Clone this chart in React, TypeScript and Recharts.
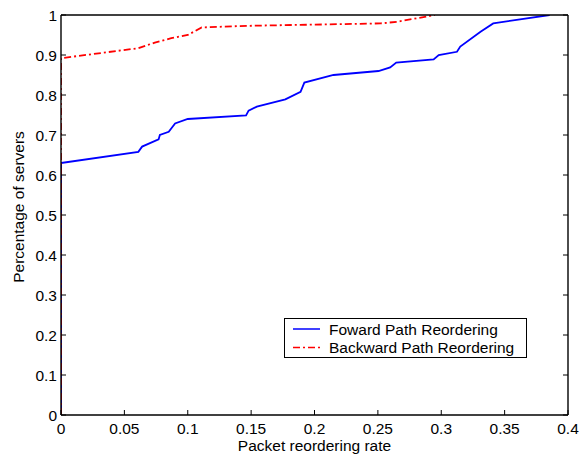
import React from "react";
import {
  LineChart, Line, XAxis, YAxis, Legend,
} from "recharts";

const FONT = '"Liberation Sans", Arial, Helvetica, sans-serif';
const FS = 15.5;

const X_TICKS = [0, 0.05, 0.1, 0.15, 0.2, 0.25, 0.3, 0.35, 0.4];
const Y_TICKS = [0, 0.1, 0.2, 0.3, 0.4, 0.5, 0.6, 0.7, 0.8, 0.9, 1];

// Foward path reordering CDF
const fwdRate = [
  0, 0, 0.061, 0.064, 0.077, 0.078, 0.085, 0.09, 0.1, 0.146, 0.148, 0.1545,
  0.177, 0.189, 0.192, 0.215, 0.2505, 0.2597, 0.2645, 0.294, 0.298, 0.3124,
  0.315, 0.331, 0.341, 0.3855,
];
const fwdPct = [
  0, 0.63, 0.658, 0.671, 0.689, 0.7, 0.708, 0.729, 0.74, 0.749, 0.761, 0.771,
  0.789, 0.808, 0.831, 0.85, 0.86, 0.869, 0.881, 0.889, 0.9, 0.908,
  0.921, 0.958, 0.979, 1,
];

// Backward path reordering CDF
const bwdRate = [0, 0, 0.061, 0.074, 0.087, 0.1, 0.111, 0.148, 0.2005, 0.252, 0.265, 0.295];
const bwdPct = [0, 0.892, 0.917, 0.931, 0.942, 0.95, 0.969, 0.973, 0.976, 0.979, 0.983, 1];

const fwd = fwdRate.map((x, i) => ({ x, y: fwdPct[i] }));
const bwd = bwdRate.map((x, i) => ({ x, y: bwdPct[i] }));

const txt = { fontFamily: FONT, fontSize: FS, fill: "#000" };
const AXIS = { stroke: "#000", strokeWidth: 1.4 };

const BottomTick = ({ x, y, payload }: any) => (
  <g>
    <line x1={x} x2={x} y1={y} y2={y - 5} stroke="#000" />
    <text x={x} y={y + 19} textAnchor="middle" {...txt}>{String(payload.value)}</text>
  </g>
);
const TopTick = ({ x, y }: any) => (
  <line x1={x} x2={x} y1={y} y2={y + 5} stroke="#000" />
);
const LeftTick = ({ x, y, payload }: any) => (
  <g>
    <line x1={x} x2={x + 5} y1={y} y2={y} stroke="#000" />
    <text x={x - 4} y={y + 5.5} textAnchor="end" {...txt}>{String(payload.value)}</text>
  </g>
);
const RightTick = ({ x, y }: any) => (
  <line x1={x} x2={x - 5} y1={y} y2={y} stroke="#000" />
);

const LegendBox = () => (
  <div style={{ border: "1.3px solid #000", background: "#fff", boxSizing: "border-box", width: 243, height: 40 }}>
    <svg width={240} height={37} style={{ display: "block" }}>
      <line x1={8} x2={35} y1={10} y2={10} stroke="#0000ff" strokeWidth={1.5} />
      <text x={44} y={15.5} {...txt}>Foward Path Reordering</text>
      <line x1={8} x2={35} y1={28.5} y2={28.5} stroke="#ff0000" strokeWidth={1.5} strokeDasharray="7 3 2 3" />
      <text x={44} y={34} {...txt}>Backward Path Reordering</text>
    </svg>
  </div>
);

export default function App() {
  return (
    <div style={{ position: "absolute", left: 0, top: 0, background: "#fff" }}>
      <LineChart width={579} height={454} margin={{ top: 14, right: 10, bottom: 0, left: 0 }}>
        <XAxis
          xAxisId="b" dataKey="x" type="number" domain={[0, 0.4]} ticks={X_TICKS}
          height={39} tickSize={0} tickMargin={0} tick={<BottomTick />}
          axisLine={AXIS} tickLine={false} allowDataOverflow
          label={{
            content: ({ viewBox }: any) => (
              <text x={viewBox.x + viewBox.width / 2} y={451} textAnchor="middle" {...txt}>
                Packet reordering rate
              </text>
            ),
          }}
        />
        <XAxis
          xAxisId="t" orientation="top" type="number" domain={[0, 0.4]} ticks={X_TICKS}
          height={1} tickSize={0} tickMargin={0} tick={<TopTick />}
          axisLine={AXIS} tickLine={false} allowDataOverflow
        />
        <YAxis
          yAxisId="l" type="number" domain={[0, 1]} ticks={Y_TICKS}
          width={61} tickSize={0} tickMargin={0} tick={<LeftTick />}
          axisLine={AXIS} tickLine={false} allowDataOverflow
          label={{
            content: ({ viewBox }: any) => {
              const cy = viewBox.y + viewBox.height / 2 - 8;
              return (
                <text x={24} y={cy} textAnchor="middle" transform={`rotate(-90 24 ${cy})`} {...txt}>
                  Percentage of servers
                </text>
              );
            },
          }}
        />
        <YAxis
          yAxisId="r" orientation="right" type="number" domain={[0, 1]} ticks={Y_TICKS}
          width={1} tickSize={0} tickMargin={0} tick={<RightTick />}
          axisLine={AXIS} tickLine={false} allowDataOverflow
        />
        <Legend
          layout="horizontal" verticalAlign="middle" align="center"
          content={<LegendBox />}
          wrapperStyle={{ left: 284, top: 318, width: 243, height: 40 }}
        />
        <Line
          xAxisId="b" yAxisId="l" data={fwd} dataKey="y" name="Foward Path Reordering"
          type="linear" stroke="#0000ff" strokeWidth={1.8} dot={false}
          isAnimationActive={false}
        />
        <Line
          xAxisId="b" yAxisId="l" data={bwd} dataKey="y" name="Backward Path Reordering"
          type="linear" stroke="#ff0000" strokeWidth={1.8} strokeDasharray="7 3 2 3" dot={false}
          isAnimationActive={false}
        />
      </LineChart>
    </div>
  );
}
